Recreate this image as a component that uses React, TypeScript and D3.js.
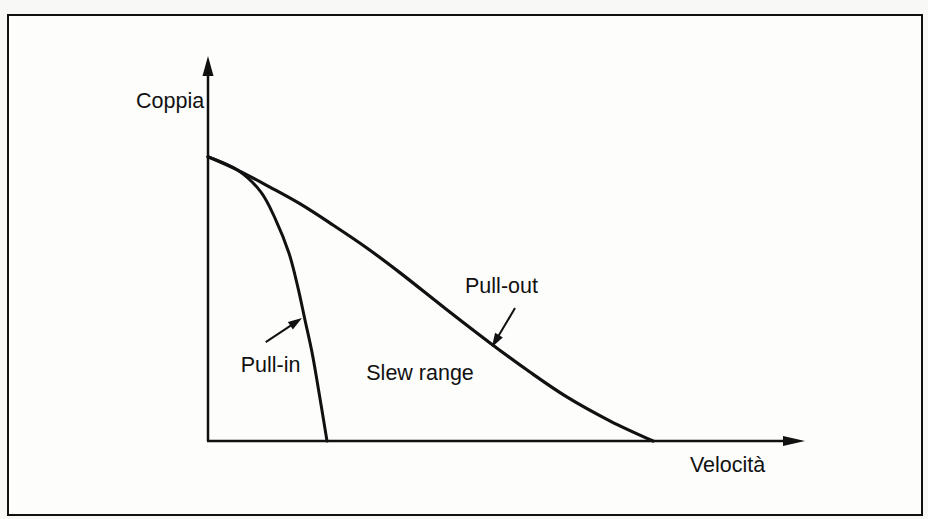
import React from "react";
import * as d3 from "d3";

// speed (0-100) vs torque (0-100)
const pullOutSpeed = [0, 4.9, 10.4, 15.5, 21.0, 26.7, 32.3, 40.2, 47.4, 54.1, 60.3, 67.6, 74.8];
const pullOutTorque = [74.2, 70.8, 66.3, 61.9, 56.4, 50.4, 43.9, 34.2, 25.6, 18.0, 11.5, 5.2, 0];

const pullInSpeed = [0, 4.9, 8.9, 11.4, 13.6, 15.1, 16.3, 17.5, 18.5, 20.0];
const pullInTorque = [74.2, 70.8, 65.0, 57.7, 49.1, 40.2, 31.6, 23.0, 14.1, 0];

const labelNames = ["Coppia", "Pull-out", "Pull-in", "Slew range", "Velocità"];
const labelSpeed = [-12.1, 43.2, 5.5, 26.6, 81.0];
const labelTorque = [86.9, 38.6, 18.0, 15.9, -8.1];

// annotation arrows: [from, to]
const arrowFrom = [[51.6, 34.7], [9.7, 25.8]];
const arrowTo = [[47.7, 24.5], [15.8, 32.1]];

const width = 928;
const height = 519;

export default function App() {
  const x = d3.scaleLinear().domain([0, 100]).range([208, 803]);
  const y = d3.scaleLinear().domain([0, 100]).range([441, 58]);

  const line = d3
    .line<[number, number]>()
    .x((d) => x(d[0]))
    .y((d) => y(d[1]))
    .curve(d3.curveCatmullRom.alpha(0.5));

  const pullOut = line(pullOutSpeed.map((s, i) => [s, pullOutTorque[i]]) as [number, number][]);
  const pullIn = line(pullInSpeed.map((s, i) => [s, pullInTorque[i]]) as [number, number][]);

  const x0 = x(0);
  const y0 = y(0);
  const xEnd = x(100);
  const yEnd = y(100);

  // small filled arrowhead pointing from (ax,ay) to (bx,by)
  function head(ax: number, ay: number, bx: number, by: number, len: number, half: number) {
    const a = Math.atan2(by - ay, bx - ax);
    const cx = bx - len * Math.cos(a);
    const cy = by - len * Math.sin(a);
    const px = -Math.sin(a) * half;
    const py = Math.cos(a) * half;
    return `M${bx},${by}L${cx + px},${cy + py}L${cx - px},${cy - py}Z`;
  }

  return (
    <svg
      width={width}
      height={height}
      style={{ position: "absolute", left: 0, top: 0, background: "#f8f8f6" }}
    >
      <rect x={8} y={15} width={914} height={500} fill="#fdfdfc" stroke="#111" strokeWidth={2} />

      {/* axes */}
      <line x1={x0} y1={y0} x2={x0} y2={yEnd + 14} stroke="#111" strokeWidth={2.5} />
      <path d={head(x0, y0, x0, yEnd - 2, 20, 5.5)} fill="#111" />
      <line x1={x0 - 1} y1={y0} x2={xEnd - 14} y2={y0} stroke="#111" strokeWidth={2.5} />
      <path d={head(x0, y0, xEnd + 2, y0, 22, 5)} fill="#111" />

      {/* curves */}
      <path d={pullOut ?? ""} fill="none" stroke="#111" strokeWidth={3.2} strokeLinecap="round" />
      <path d={pullIn ?? ""} fill="none" stroke="#111" strokeWidth={3} strokeLinecap="round" />

      {/* annotation arrows */}
      {arrowFrom.map((f, i) => {
        const ax = x(f[0]);
        const ay = y(f[1]);
        const bx = x(arrowTo[i][0]);
        const by = y(arrowTo[i][1]);
        const a = Math.atan2(by - ay, bx - ax);
        return (
          <g key={i}>
            <line
              x1={ax}
              y1={ay}
              x2={bx - 10 * Math.cos(a)}
              y2={by - 10 * Math.sin(a)}
              stroke="#111"
              strokeWidth={2}
            />
            <path d={head(ax, ay, bx, by, 14, 4.5)} fill="#111" />
          </g>
        );
      })}

      {/* labels */}
      {labelNames.map((t, i) => (
        <text
          key={t}
          x={x(labelSpeed[i])}
          y={y(labelTorque[i])}
          fontFamily="'Liberation Sans', Arial, sans-serif"
          fontSize={21.5}
          fill="#111"
        >
          {t}
        </text>
      ))}
    </svg>
  );
}
